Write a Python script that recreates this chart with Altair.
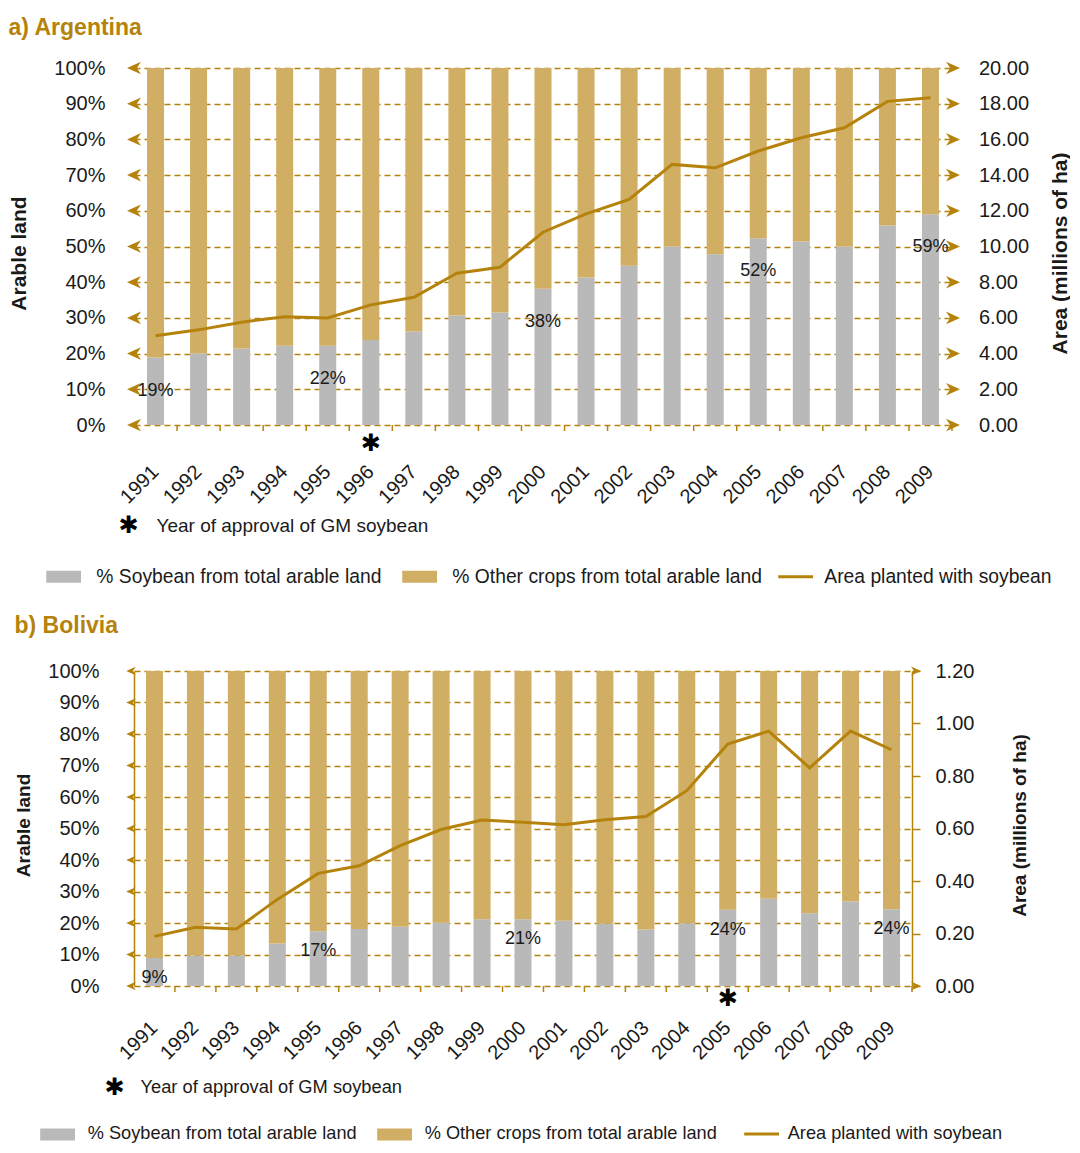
import altair as alt
import pandas as pd

# ---------------- data ----------------
YEARS = ["1991", "1992", "1993", "1994", "1995", "1996", "1997", "1998", "1999", "2000",
         "2001", "2002", "2003", "2004", "2005", "2006", "2007", "2008", "2009"]

SOY_NAME = "% Soybean from total arable land"
OTHER_NAME = "% Other crops from total arable land"
LINE_NAME = "Area planted with soybean"
FOOTNOTE = "Year of approval of GM soybean"

# Argentina
ARG_SOY = [18.9, 20.0, 21.4, 22.2, 22.2, 23.8, 26.2, 30.7, 31.5, 38.2,
           41.3, 44.6, 50.0, 47.8, 52.3, 51.4, 50.0, 55.9, 59.0]
ARG_AREA = [5.00, 5.33, 5.76, 6.07, 6.00, 6.73, 7.16, 8.50, 8.84, 10.80,
            11.83, 12.64, 14.60, 14.41, 15.35, 16.09, 16.65, 18.13, 18.34]
ARG_LABEL_YEARS = ["1991", "1995", "2000", "2005", "2009"]
ARG_LABELS = ["19%", "22%", "38%", "52%", "59%"]
ARG_GM_YEAR = ["1996"]
ARG_PCT_TICKS = [0, 10, 20, 30, 40, 50, 60, 70, 80, 90, 100]
ARG_AREA_TICKS = [0, 2, 4, 6, 8, 10, 12, 14, 16, 18, 20]

# Bolivia
BOL_SOY = [8.9, 9.7, 9.7, 13.5, 17.4, 18.1, 18.8, 20.1, 21.2, 21.2,
           20.7, 19.8, 17.9, 19.9, 24.2, 27.7, 23.1, 26.8, 24.4]
BOL_AREA = [0.189, 0.224, 0.217, 0.330, 0.429, 0.458, 0.535, 0.596, 0.632, 0.624,
            0.614, 0.633, 0.646, 0.744, 0.922, 0.971, 0.831, 0.971, 0.900]
BOL_LABEL_YEARS = ["1991", "1995", "2000", "2005", "2009"]
BOL_LABELS = ["9%", "17%", "21%", "24%", "24%"]
BOL_GM_YEAR = ["2005"]
BOL_PCT_TICKS = [0, 10, 20, 30, 40, 50, 60, 70, 80, 90, 100]
BOL_AREA_TICKS = [0, 0.2, 0.4, 0.6, 0.8, 1.0, 1.2]
BOL_AREA_ARROWS = [0, 1.2]

# ---------------- style ----------------
GOLD = "#B5830C"
BAR_GOLD = "#D0AE63"
GRAY = "#B9B9B9"
INK = "#1a1a1a"
FONT = "Liberation Sans, Arial, sans-serif"
ARROW_L = "M-1,0L1,-0.9L0.4,0L1,0.9Z"
ARROW_R = "M1,0L-1,-0.9L-0.4,0L-1,0.9Z"
RECT_SYM = "M-2.9,-1L2.9,-1L2.9,1L-2.9,1Z"
LINE_SYM = "M-2.9,0L2.9,0"


def panel(title, soy, area, area_max, label_years, labels, gm_year,
          pct_ticks, area_ticks, area_arrows, st):
    W, H = st["W"], st["H"]
    n = len(YEARS)
    bar_df = pd.DataFrame({
        "year": YEARS * 2,
        "series": [SOY_NAME] * n + [OTHER_NAME] * n,
        "value": list(soy) + [round(100 - s, 2) for s in soy],
        "ord": [0] * n + [1] * n,
    })
    soy_by_year = dict(zip(YEARS, soy))
    lab_df = pd.DataFrame({
        "year": label_years,
        "value": [soy_by_year[y] for y in label_years],
        "label": labels,
    })
    line_df = pd.DataFrame({"year": YEARS, "area": area, "series": [LINE_NAME] * n})

    def xs():
        return alt.Scale(domain=YEARS, paddingInner=0, paddingOuter=0)

    def yl():
        return alt.Scale(domain=[0, 100], nice=False, zero=True)

    def yr():
        return alt.Scale(domain=[0, area_max], nice=False, zero=True)

    yl_axis = alt.Axis(
        values=pct_ticks, labelExpr="datum.value + '%'",
        grid=True, gridColor=GOLD, gridDash=[6, 4], gridWidth=1.4,
        ticks=False, labelPadding=st["yl_pad"],
        domain=st["axis_lines"], domainColor=GOLD, domainWidth=1.5,
        labelFont=FONT, labelFontSize=st["tick_size"], labelColor=INK,
        title="Arable land", titleAngle=270, titleX=st["yl_tx"], titleY=st["yl_ty"],
        titleAlign="center", titleBaseline="middle", titleFont=FONT,
        titleFontSize=st["atitle_size"], titleFontWeight="bold", titleColor=INK,
    )
    yr_axis = alt.Axis(
        orient="right", values=area_ticks, format=".2f", grid=False,
        ticks=st["axis_lines"], tickSize=8, tickColor=GOLD, tickWidth=1.5,
        domain=st["axis_lines"], domainColor=GOLD, domainWidth=1.5,
        labelPadding=st["yr_pad"], labelFont=FONT, labelFontSize=st["tick_size"],
        labelColor=INK,
        title="Area (millions of ha)", titleAngle=270, titleX=st["yr_tx"], titleY=st["yr_ty"],
        titleAlign="center", titleBaseline="middle", titleFont=FONT,
        titleFontSize=st["atitle_size"], titleFontWeight="bold", titleColor=INK,
    )

    bars = alt.Chart(bar_df).mark_bar(size=st["bar_w"]).encode(
        x=alt.X("year:N", scale=xs(), axis=None),
        y=alt.Y("value:Q", stack="zero", scale=yl(), axis=yl_axis),
        color=alt.Color(
            "series:N",
            scale=alt.Scale(domain=[SOY_NAME, OTHER_NAME], range=[GRAY, BAR_GOLD]),
            legend=alt.Legend(
                title=None, orient="none", direction="horizontal",
                legendX=st["leg1_x"], legendY=st["leg_y"], padding=0,
                symbolType=RECT_SYM, symbolSize=144, symbolStrokeWidth=0,
                labelFont=FONT, labelFontSize=st["leg_size"], labelColor=INK,
                labelOffset=st["leg_off"], columnPadding=st["leg_colpad"],
                labelLimit=600,
            ),
        ),
        order=alt.Order("ord:Q"),
    )
    # small tick marks at the category boundaries of the x axis
    xticks = alt.Chart(pd.DataFrame({"year": YEARS})).mark_rule(
        color=GOLD, strokeWidth=1.5, xOffset=W / len(YEARS) / 2
    ).encode(
        x=alt.X("year:N", scale=xs(), axis=None),
        y=alt.value(H), y2=alt.value(H + 6),
    )
    # rotated year labels of the x axis
    year_text = alt.Chart(pd.DataFrame({"year": YEARS})).mark_text(
        font=FONT, fontSize=st["tick_size"], color=INK, angle=315,
        align="right", baseline="middle"
    ).encode(
        x=alt.X("year:N", scale=xs(), axis=None),
        y=alt.value(H + st["xlab_pad"]),
        text="year:N",
    )
    lab = alt.Chart(lab_df).mark_text(
        font=FONT, fontSize=st["dl_size"], color=INK, baseline="middle", dy=st["dl_dy"]
    ).encode(
        x=alt.X("year:N", scale=xs(), axis=None),
        y=alt.Y("value:Q", scale=yl(), axis=None),
        text="label:N",
    )
    l_arrows = alt.Chart(pd.DataFrame({"tick": pct_ticks})).mark_point(
        shape=ARROW_L, filled=True, size=st["la_size"], color=GOLD, opacity=1, strokeWidth=0
    ).encode(
        x=alt.value(st["la_x"]),
        y=alt.Y("tick:Q", scale=yl(), axis=None),
    )
    star = alt.Chart(pd.DataFrame({"year": gm_year})).mark_text(
        text="\u2731", font="DejaVu Sans", fontSize=st["star_size"], color="#000000",
        baseline="middle"
    ).encode(
        x=alt.X("year:N", scale=xs(), axis=None),
        y=alt.value(H + st["star_dy"]),
    )
    # footnote: "* Year of approval of GM soybean"
    fn_df = pd.DataFrame({"note": [FOOTNOTE]})
    fn_star = alt.Chart(fn_df).mark_text(
        text="\u2731", font="DejaVu Sans", fontSize=st["star_size"], color="#000000",
        baseline="middle", align="center"
    ).encode(x=alt.value(st["fn_star_x"]), y=alt.value(st["fn_y"]))
    fn_text = alt.Chart(fn_df).mark_text(
        font=FONT, fontSize=st["fn_size"], color=INK, baseline="middle", align="left"
    ).encode(x=alt.value(st["fn_x"]), y=alt.value(st["fn_y"]), text="note:N")

    line = alt.Chart(line_df).mark_line(strokeWidth=3).encode(
        x=alt.X("year:N", scale=xs(), axis=None),
        y=alt.Y("area:Q", scale=yr(), axis=yr_axis),
        stroke=alt.Stroke(
            "series:N",
            scale=alt.Scale(domain=[LINE_NAME], range=[GOLD]),
            legend=alt.Legend(
                title=None, orient="none", direction="horizontal",
                legendX=st["leg2_x"], legendY=st["leg_y"], padding=0,
                symbolType=LINE_SYM, symbolSize=144, symbolStrokeWidth=3,
                labelFont=FONT, labelFontSize=st["leg_size"], labelColor=INK,
                labelOffset=st["leg2_off"], labelLimit=600,
            ),
        ),
    )
    r_arrows = alt.Chart(pd.DataFrame({"rtick": area_arrows})).mark_point(
        shape=ARROW_R, filled=True, size=st["ra_size"], color=GOLD, opacity=1, strokeWidth=0
    ).encode(
        x=alt.value(W + st["ra_dx"]),
        y=alt.Y("rtick:Q", scale=yr(), axis=None),
    )
    layers = [bars, xticks, year_text, lab, l_arrows, star, fn_star, fn_text, line, r_arrows]

    return alt.layer(*layers).resolve_scale(
        y="independent"
    ).properties(
        width=W, height=H,
        title=alt.TitleParams(
            title, anchor="start", frame="bounds", font=FONT, fontSize=23,
            fontWeight="bold", color=GOLD, offset=st["title_off"],
        ),
    )


ARG_ST = dict(
    W=818, H=357, bar_w=17, tick_size=20, atitle_size=21, fn_size=19, leg_size=19.3,
    dl_size=18, dl_dy=33,
    xlab_pad=44, fn_star_x=-5.5, fn_x=22.5, fn_y=458,
    yl_pad=29, yl_tx=-114.5, yl_ty=185,
    yr_pad=26.5, yr_tx=108, yr_ty=185,
    axis_lines=False,
    la_size=196, la_x=0, ra_size=196, ra_dx=1,
    star_size=24, star_dy=19,
    leg1_x=-80, leg2_x=652, leg_y=499, leg_off=23, leg2_off=19, leg_colpad=20,
    title_off=18,
)
BOL_ST = dict(
    W=778, H=315, bar_w=17, tick_size=20, atitle_size=19, fn_size=18.3, leg_size=18.2,
    dl_size=18, dl_dy=20,
    xlab_pad=39, fn_star_x=-19.5, fn_x=6.5, fn_y=417,
    yl_pad=35, yl_tx=-110.5, yl_ty=154,
    yr_pad=15, yr_tx=107.5, yr_ty=154,
    axis_lines=True,
    la_size=90, la_x=-3, ra_size=100, ra_dx=4,
    star_size=24, star_dy=13,
    leg1_x=-85.5, leg2_x=618.5, leg_y=454, leg_off=21, leg2_off=17, leg_colpad=19,
    title_off=23,
)

arg = panel("a) Argentina", ARG_SOY, ARG_AREA, 20, ARG_LABEL_YEARS, ARG_LABELS, ARG_GM_YEAR,
            ARG_PCT_TICKS, ARG_AREA_TICKS, ARG_AREA_TICKS, ARG_ST)
bol = panel("b) Bolivia", BOL_SOY, BOL_AREA, 1.2, BOL_LABEL_YEARS, BOL_LABELS, BOL_GM_YEAR,
            BOL_PCT_TICKS, BOL_AREA_TICKS, BOL_AREA_ARROWS, BOL_ST)

chart = alt.vconcat(arg, bol, spacing=28).resolve_scale(
    color="independent", stroke="independent"
).resolve_legend(
    color="independent", stroke="independent"
).properties(
    padding={"left": 0, "top": 9, "right": 0, "bottom": 0},
    background="white",
).configure_view(stroke=None)

chart.save("out.html", embed_options={"renderer": "svg", "actions": False})
